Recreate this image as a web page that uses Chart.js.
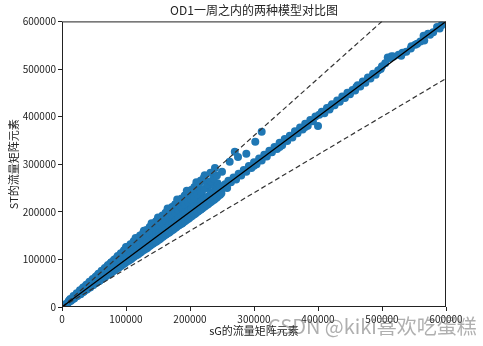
<!DOCTYPE html>
<html>
<head>
<meta charset="utf-8">
<script src="https://cdn.jsdelivr.net/npm/chart.js@4/dist/chart.umd.min.js"></script>
<style>
  html, body { margin: 0; padding: 0; background: #fff; }
  #wrap { position: relative; width: 483px; height: 346px; }
  #mark {
    position: absolute; left: 268px; top: 311px;
    font-family: "Noto Sans CJK SC", sans-serif; font-size: 20px;
    color: rgba(110, 110, 110, 0.55); white-space: nowrap;
  }
</style>
</head>
<body>
<div id="wrap">
  <canvas id="odChart" width="483" height="346"></canvas>
  <div id="mark">CSDN @kiki喜欢吃蛋糕</div>
</div>
<script>
const chartTitle = "OD1一周之内的两种模型对比图";
const xTitle = "sG的流量矩阵元素";
const yTitle = "ST的流量矩阵元素";
const axisTicks = [0, 100000, 200000, 300000, 400000, 500000, 600000];

// sG 流量 (x) 与 ST 流量 (y)，逐点读图
const sgFlow = [
  5000, 6000,
  9000, 10000, 11000,
  14000, 15000, 13000,
  19000, 20000, 18000,
  24000, 25000, 23000,
  29000, 30000, 28000,
  34000, 35000, 33000,
  39000, 40000, 38000,
  44000, 45000, 43000,
  49000, 50000, 48000,
  54000, 55000, 53000, 56000,
  59000, 60000, 58000, 61000,
  64000, 65000, 63000, 66000,
  69000, 70000, 68000, 71000,
  74000, 75000, 73000, 76000,
  79000, 80000, 78000, 81000,
  84000, 85000, 83000, 86000,
  89000, 90000, 88000, 91000,
  94000, 95000, 93000, 96000,
  99000, 100000, 98000, 101000,
  104000, 105000, 103000, 106000,
  109000, 110000, 108000, 111000,
  114000, 115000, 113000, 116000,
  119000, 120000, 118000, 121000,
  124000, 125000, 123000, 126000,
  129000, 130000, 128000, 131000,
  134000, 135000, 133000, 136000,
  139000, 140000, 138000, 141000, 142000,
  144000, 145000, 143000, 146000, 147000,
  149000, 150000, 148000, 151000, 152000,
  154000, 155000, 153000, 156000, 157000,
  159000, 160000, 158000, 161000, 162000,
  164000, 165000, 163000, 166000, 167000,
  169000, 170000, 168000, 171000, 172000,
  174000, 175000, 173000, 176000, 177000,
  179000, 180000, 178000, 181000, 182000,
  184000, 185000, 183000, 186000, 187000,
  189000, 190000, 188000, 191000, 192000,
  194000, 195000, 193000, 196000, 197000,
  199000, 200000, 198000, 201000, 202000,
  204000, 205000, 203000, 206000, 207000,
  209000, 210000, 208000, 211000, 212000,
  214000, 215000, 213000, 216000,
  219000, 220000, 218000, 221000,
  224000, 226000, 223000,
  229000, 230000, 228000,
  234000, 235000, 239000,
  239000, 240000, 238000,
  244000, 245000, 243000,
  249000, 252000, 250000,
  12000, 12000,
  17000, 17000,
  22000, 22000,
  27000, 27000,
  32000, 32000, 32000,
  37000, 37000, 37000,
  42000, 42000, 42000,
  47000, 47000, 47000,
  52000, 52000, 52000,
  57000, 57000, 57000, 57000,
  62000, 62000, 62000, 62000,
  67000, 67000, 67000, 67000,
  72000, 72000, 72000, 72000,
  77000, 77000, 77000, 77000,
  82000, 82000, 82000, 82000,
  87000, 87000, 87000, 87000,
  92000, 92000, 92000, 92000,
  97000, 97000, 97000, 97000,
  102000, 102000, 102000, 102000,
  107000, 107000, 107000, 107000,
  112000, 112000, 112000, 112000,
  117000, 117000, 117000, 117000,
  122000, 122000, 122000, 122000,
  127000, 127000, 127000, 127000,
  132000, 132000, 132000, 132000,
  137000, 137000, 137000, 137000,
  142000, 142000, 142000, 142000,
  147000, 147000, 147000, 147000,
  152000, 152000, 152000, 152000,
  157000, 157000, 157000, 157000,
  162000, 162000, 162000, 162000,
  167000, 167000, 167000, 167000,
  172000, 172000, 172000, 172000,
  177000, 177000, 177000, 177000,
  182000, 182000, 182000, 182000,
  187000, 187000, 187000, 187000,
  192000, 192000, 192000, 192000,
  197000, 197000, 197000, 197000,
  202000, 202000, 202000, 202000,
  207000, 207000, 207000, 207000,
  212000, 212000, 212000, 212000,
  217000, 217000, 217000, 217000,
  222000, 222000, 222000, 222000,
  227000, 227000, 227000,
  232000, 232000, 232000, 232000,
  237000, 237000, 237000,
  242000, 242000, 242000,
  247000, 247000,
  100000, 115000, 128000, 140000, 150000, 165000, 180000, 195000, 210000,
  262000, 270000, 275000, 288000, 302000, 312000,
  255000, 258000, 260000, 264000, 268000, 272000, 276000, 280000, 284000, 288000,
  292000, 296000, 300000, 304000, 308000, 312000, 316000, 320000, 324000, 328000,
  332000, 336000, 340000, 344000, 348000, 352000, 356000, 360000, 364000, 368000,
  372000, 376000, 380000, 384000, 388000, 392000, 396000, 400000, 402000, 406000,
  410000, 414000, 418000, 422000, 426000, 430000, 434000, 438000, 442000, 446000,
  450000, 454000, 458000, 462000, 466000, 470000, 474000, 478000, 482000, 486000,
  490000, 494000, 498000, 505000, 509000, 512000, 518000, 526000, 532000, 538000,
  546000, 552000, 560000, 566000, 572000, 580000, 586000, 593000,
  300000, 340000, 380000, 420000, 460000, 500000, 515000, 530000, 545000, 555000,
  565000, 575000, 590000
];
const stFlow = [
  5000, 6000,
  8000, 11000, 13000,
  13000, 16000, 17000,
  18000, 22000, 23000,
  23000, 27000, 29000,
  27000, 32000, 35000,
  32000, 37000, 41000,
  37000, 43000, 47000,
  41000, 48000, 53000,
  46000, 53000, 59000,
  51000, 58000, 64000, 67000,
  55000, 63000, 70000, 73000,
  60000, 68000, 75000, 79000,
  65000, 73000, 81000, 86000,
  69000, 78000, 87000, 92000,
  74000, 83000, 92000, 98000,
  79000, 88000, 97000, 104000,
  83000, 93000, 103000, 110000,
  88000, 98000, 108000, 116000,
  93000, 103000, 113000, 122000,
  97000, 108000, 118000, 128000,
  102000, 113000, 124000, 134000,
  107000, 118000, 129000, 140000,
  111000, 123000, 135000, 146000,
  116000, 128000, 140000, 152000,
  121000, 133000, 145000, 158000,
  125000, 138000, 151000, 164000,
  130000, 143000, 156000, 167000, 172000,
  135000, 148000, 161000, 173000, 178000,
  139000, 153000, 166000, 179000, 184000,
  144000, 158000, 171000, 185000, 190000,
  149000, 163000, 176000, 190000, 197000,
  154000, 168000, 182000, 196000, 203000,
  158000, 173000, 187000, 201000, 209000,
  163000, 178000, 192000, 207000, 215000,
  168000, 183000, 197000, 212000, 221000,
  173000, 188000, 203000, 218000, 227000,
  177000, 193000, 208000, 223000, 233000,
  182000, 198000, 213000, 229000, 239000,
  187000, 203000, 219000, 234000, 245000,
  192000, 208000, 224000, 240000, 251000,
  197000, 213000, 229000, 245000, 257000,
  202000, 218000, 234000, 262000,
  207000, 222000, 239000, 268000,
  212000, 228000, 277000,
  217000, 233000, 250000,
  222000, 238000, 292000,
  227000, 243000, 255000,
  233000, 248000, 260000,
  239000, 254000, 284000,
  12000, 14000,
  17000, 19000,
  22000, 25000,
  27000, 31000,
  31000, 35000, 38000,
  36000, 40000, 44000,
  41000, 45000, 50000,
  45000, 51000, 56000,
  50000, 56000, 62000,
  54000, 61000, 67000, 70000,
  59000, 66000, 72000, 76000,
  63000, 71000, 78000, 82000,
  68000, 76000, 84000, 88000,
  73000, 81000, 89000, 94000,
  77000, 86000, 95000, 100000,
  82000, 91000, 100000, 107000,
  86000, 96000, 106000, 113000,
  91000, 101000, 111000, 119000,
  96000, 106000, 116000, 126000,
  100000, 111000, 122000, 132000,
  105000, 116000, 127000, 138000,
  109000, 121000, 133000, 144000,
  114000, 126000, 138000, 150000,
  119000, 131000, 143000, 156000,
  123000, 136000, 149000, 162000,
  128000, 141000, 154000, 168000,
  133000, 146000, 160000, 174000,
  137000, 151000, 165000, 180000,
  142000, 156000, 171000, 186000,
  147000, 161000, 176000, 192000,
  152000, 166000, 182000, 198000,
  156000, 171000, 187000, 204000,
  161000, 176000, 193000, 210000,
  166000, 181000, 198000, 216000,
  171000, 186000, 204000, 222000,
  175000, 191000, 209000, 228000,
  180000, 196000, 215000, 234000,
  185000, 201000, 220000, 240000,
  190000, 206000, 226000, 246000,
  195000, 211000, 231000, 252000,
  200000, 216000, 237000, 255000,
  205000, 221000, 243000, 266000,
  210000, 226000, 248000, 272000,
  215000, 231000, 258000,
  220000, 236000, 264000, 282000,
  225000, 241000, 270000,
  230000, 246000, 276000,
  236000, 251000,
  126000, 145000, 160000, 176000, 188000, 207000, 226000, 244000, 262000,
  305000, 326000, 315000, 322000, 347000, 368000,
  258000, 250000, 265000, 262000, 272000, 268000, 280000, 276000, 288000, 284000,
  296000, 292000, 304000, 300000, 312000, 308000, 320000, 316000, 328000, 325000,
  336000, 332000, 345000, 340000, 353000, 349000, 360000, 356000, 369000, 365000,
  377000, 373000, 385000, 381000, 393000, 390000, 400000, 380000, 404000, 410000,
  407000, 418000, 415000, 426000, 424000, 434000, 431000, 442000, 439000, 450000,
  447000, 456000, 455000, 466000, 463000, 474000, 471000, 482000, 480000, 490000,
  488000, 497000, 500000, 512000, 524000, 523000, 526000, 530000, 534000, 536000,
  548000, 551000, 558000, 560000, 574000, 577000, 588000, 592000,
  297000, 336000, 378000, 421000, 462000, 506000, 527000, 528000, 543000, 553000,
  570000, 572000, 585000
];

// 参考线 y = x, y = 1.2x, y = 0.8x
const equalLineX = [0, 600000];
const equalLineY = [0, 600000];
const upperLineX = [0, 500000];
const upperLineY = [0, 600000];
const lowerLineX = [0, 600000];
const lowerLineY = [0, 480000];

const toPoints = (xs, ys) => xs.map((x, i) => ({ x, y: ys[i] }));

const frameBox = {
  id: "frameBox",
  afterDraw(chart) {
    const { ctx, chartArea: a } = chart;
    ctx.save();
    ctx.strokeStyle = "#222";
    ctx.lineWidth = 1;
    ctx.strokeRect(a.left + 0.5, a.top + 0.5, a.right - a.left - 1, a.bottom - a.top - 1);
    ctx.restore();
  },
};

const fontFamily = "'Noto Sans CJK SC', 'DejaVu Sans', sans-serif";
const tickColor = "#222";

const axis = (titleText, fit, titlePadding) => ({
  type: "linear",
  min: 0,
  max: 600000,
  afterBuildTicks: (s) => { s.ticks = axisTicks.map((v) => ({ value: v })); },
  afterFit: fit,
  border: { display: false },
  grid: { drawOnChartArea: false, drawTicks: true, tickLength: 4, color: tickColor },
  ticks: {
    color: tickColor,
    padding: 2,
    maxRotation: 0,
    font: { family: fontFamily, size: 10 },
    callback: (v) => String(v),
  },
  title: {
    display: true,
    text: titleText,
    color: tickColor,
    font: { family: fontFamily, size: 11 },
    padding: titlePadding,
  },
});

new Chart(document.getElementById("odChart").getContext("2d"), {
  type: "scatter",
  data: {
    datasets: [
      {
        data: toPoints(equalLineX, equalLineY),
        showLine: true,
        borderColor: "#000",
        borderWidth: 1.3,
        pointRadius: 0,
      },
      {
        data: toPoints(upperLineX, upperLineY),
        showLine: true,
        borderColor: "#333",
        borderWidth: 1.2,
        borderDash: [5, 3],
        pointRadius: 0,
      },
      {
        data: toPoints(lowerLineX, lowerLineY),
        showLine: true,
        borderColor: "#333",
        borderWidth: 1.2,
        borderDash: [5, 3],
        pointRadius: 0,
      },
      {
        data: toPoints(sgFlow, stFlow),
        backgroundColor: "#1f77b4",
        borderColor: "#1f77b4",
        borderWidth: 0,
        pointRadius: 4,
      },
    ],
  },
  options: {
    responsive: false,
    animation: false,
    layout: { padding: { left: 0, right: 37, top: 0, bottom: 0 } },
    plugins: {
      legend: { display: false },
      tooltip: { enabled: false },
      title: {
        display: true,
        fullSize: false,
        text: chartTitle,
        color: tickColor,
        font: { family: fontFamily, size: 12, weight: "normal" },
        padding: { top: 3, bottom: 4 },
      },
    },
    scales: {
      x: axis(xTitle, (s) => { s.height = 39; }, { top: 0, bottom: 9 }),
      y: axis(yTitle, (s) => { s.width = 62; }, { top: 7, bottom: 0 }),
    },
  },
  plugins: [frameBox],
});
</script>
</body>
</html>
